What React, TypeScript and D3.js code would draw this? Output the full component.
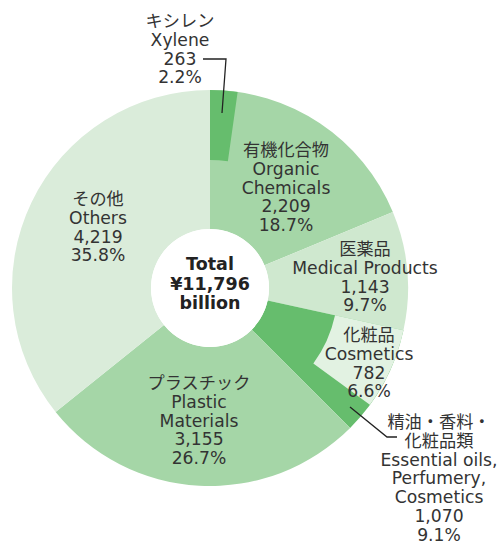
import React from "react";
import * as d3 from "d3";

const categories = ["Organic Chemicals", "Medical Products", "Essential oils", "Plastic Materials", "Others"];
const values = [2209, 1143, 1070, 3155, 4219];
const percents = ["18.7%", "9.7%", "9.1%", "26.7%", "35.8%"];
const labelLines: string[][] = [
  ["有機化合物", "Organic", "Chemicals", "2,209", "18.7%"],
  ["医薬品", "Medical Products", "1,143", "9.7%"],
  ["精油・香料・", "化粧品類", "Essential oils,", "Perfumery,", "Cosmetics", "1,070", "9.1%"],
  ["プラスチック", "Plastic", "Materials", "3,155", "26.7%"],
  ["その他", "Others", "4,219", "35.8%"],
];
const subCategories = ["Xylene", "Cosmetics"];
const subParents = [0, 2];
const subValues = [263, 782];
const subLabelLines: string[][] = [
  ["キシレン", "Xylene", "263", "2.2%"],
  ["化粧品", "Cosmetics", "782", "6.6%"],
];
const totalLines = ["Total", "¥11,796", "billion"];

const W = 498, H = 546;
const cx = 210, cy = 288;
const rOuter = 198, rInner = 59, rSub = 128;
const colors = ["#a5d6a7", "#cfe8cf", "#66bd6d", "#a5d6a7", "#daecda"];
const subColors = ["#66bd6d", "#e2f2e2"];
const labelPos = [
  { x: 286, y: 150 },
  { x: 365, y: 249 },
  { x: 439, y: 422 },
  { x: 199, y: 383 },
  { x: 98, y: 199 },
];
const subLabelPos = [
  { x: 180, y: 21 },
  { x: 369, y: 335 },
];
const lineH = 18.8;
const FONT = "'DejaVu Sans', 'Noto Sans CJK JP', sans-serif";

export default function App() {
  const total = d3.sum(values);
  const pie = d3.pie<number>().sort(null).value((d) => d);
  const arcs = pie(values);
  const arc = d3.arc<any>().innerRadius(rInner).outerRadius(rOuter);
  const subArc = d3.arc<any>().innerRadius(rSub).outerRadius(rOuter);
  const angle = d3.scaleLinear().domain([0, total]).range([0, 2 * Math.PI]);

  const subs = subValues.map((v, i) => {
    const p = arcs[subParents[i]];
    return { startAngle: p.startAngle, endAngle: p.startAngle + angle(v), i };
  });

  const renderLines = (lines: string[], x: number, y: number, key: string, bold = false, size = 17.2, lh = lineH) => (
    <text key={key} x={x} y={y} textAnchor="middle" fontFamily={FONT} fontSize={size}
      fontWeight={bold ? 700 : 400} fill={bold ? "#222" : "#333"}>
      {lines.map((l, j) => (
        <tspan key={j} x={x} y={y + j * lh} dominantBaseline="central">{l}</tspan>
      ))}
    </text>
  );

  return (
    <svg width={W} height={H} style={{ position: "absolute", left: 0, top: 0, background: "#fff" }}>
      <g transform={`translate(${cx},${cy})`}>
        {arcs.map((a, i) => (
          <path key={categories[i]} d={arc(a) as string} fill={colors[i]} />
        ))}
        {subs.map((s) => (
          <path key={subCategories[s.i]} d={subArc(s) as string} fill={subColors[s.i]} />
        ))}
        <circle r={rInner} fill="#fff" />
      </g>
      {labelLines.map((lines, i) => renderLines(lines, labelPos[i].x, labelPos[i].y, "l" + i))}
      {subLabelLines.map((lines, i) => renderLines(lines, subLabelPos[i].x, subLabelPos[i].y, "s" + i))}
      {renderLines(totalLines, cx, 264, "total", true, 17.5, 19.5)}
      <polyline points="203,59 226,59 222,113" fill="none" stroke="#222" strokeWidth={1.3} />
      <polyline points="350,407 387,437 397,437" fill="none" stroke="#222" strokeWidth={1.3} />
    </svg>
  );
}
